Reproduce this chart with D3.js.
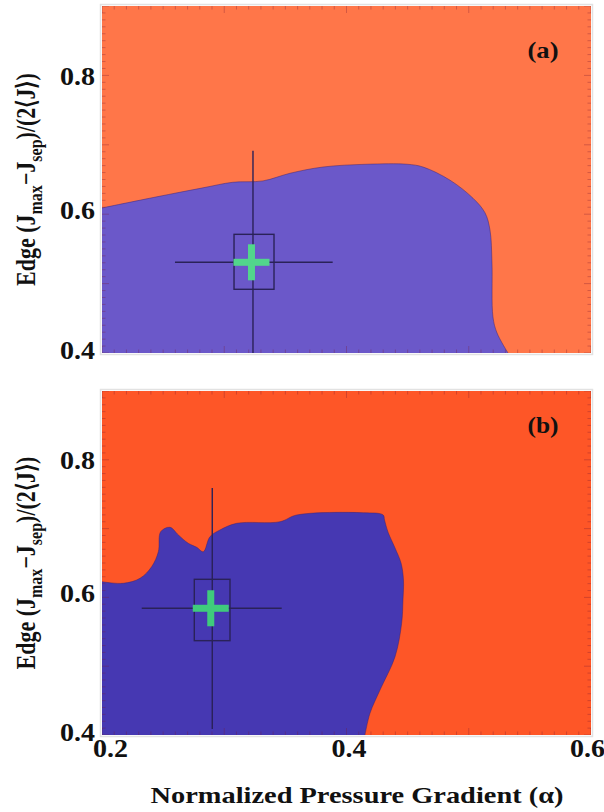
<!DOCTYPE html>
<html><head><meta charset="utf-8">
<script src="https://cdn.jsdelivr.net/npm/d3@7"></script>
<style>body{margin:0;background:#fff} svg{display:block}</style>
</head><body>
<svg id="c" width="604" height="812"></svg>
<script>
// ---------------- data ----------------
const xDomain = [0.2, 0.6];
const yDomain = [0.4, 0.9];
const xTickValues = [0.2, 0.4, 0.6];
const yTickValues = [0.4, 0.6, 0.8];
const panelLabels = ["(a)", "(b)"];

// stability boundary of the stable (blue) region, [alpha, edge current]
const boundaryA = [[0.2,0.609],[0.2447,0.625],[0.2826,0.638],[0.307,0.646],[0.3317,0.648],
  [0.3538,0.659],[0.3808,0.668],[0.4168,0.672],[0.4495,0.672],[0.4626,0.668],[0.4847,0.649],
  [0.5035,0.623],[0.5133,0.602],[0.5174,0.577],[0.519,0.53],[0.5198,0.452],[0.5231,0.429],[0.5321,0.4]];
const boundaryB = [[0.2,0.6228],[0.2174,0.6205],[0.2311,0.6278],[0.2406,0.6446],[0.2461,0.6664],
  [0.248,0.6955],[0.2556,0.7019],[0.2625,0.6907],[0.2706,0.6786],[0.2775,0.6728],[0.2829,0.6664],
  [0.2883,0.6882],[0.2965,0.698],[0.3102,0.7077],[0.3456,0.71],[0.3593,0.7198],[0.4138,0.7231],
  [0.43,0.7198],[0.4311,0.7125],[0.434,0.6948],[0.4397,0.6718],[0.4446,0.65],[0.4466,0.6253],
  [0.4462,0.5962],[0.4451,0.5624],[0.4397,0.5138],[0.4274,0.4654],[0.4192,0.4315],[0.4151,0.4]];

// experimental point: centre, inner box range, outer error bars
const pointA = [0.3235, 0.5307];
const boxAx = [0.308, 0.3407];
const boxAy = [0.4918, 0.571];
const errAx = [0.2597, 0.3887];
const errAy = [0.39, 0.6915];

const pointB = [0.2902, 0.5842];
const boxBx = [0.2755, 0.3047];
const boxBy = [0.5371, 0.6263];
const errBx = [0.2325, 0.347];
const errBy = [0.4087, 0.759];

// ---------------- drawing ----------------
const svg = d3.select("#c");
const serif = "'Liberation Serif','Times New Roman',Times,serif";

const panels = [
  {top: 6, bottom: 353, boundary: boundaryA, pt: pointA, bx: boxAx, by: boxAy, ex: errAx, ey: errAy,
   orange: "#FF7649", purple: "#6B58C9", green: "#52D68C", label: panelLabels[0], labelY: 58, showX: false},
  {top: 391, bottom: 735, boundary: boundaryB, pt: pointB, bx: boxBx, by: boxBy, ex: errBx, ey: errBy,
   orange: "#FE5627", purple: "#4638B2", green: "#3FCB7C", label: panelLabels[1], labelY: 433, showX: true}
];
const left = 102, right = 591;

panels.forEach((p, i) => {
  const x = d3.scaleLinear().domain(xDomain).range([left, right]);
  const y = d3.scaleLinear().domain(yDomain).range([p.bottom, p.top]);
  const g = svg.append("g");
  const clipId = "clip" + i;
  g.append("clipPath").attr("id", clipId).append("rect")
    .attr("x", left).attr("y", p.top).attr("width", right - left).attr("height", p.bottom - p.top);

  // light frame
  g.append("rect").attr("x", left - 1.5).attr("y", p.top - 1.5)
    .attr("width", right - left + 3).attr("height", p.bottom - p.top + 3)
    .attr("fill", "none").attr("stroke", "#e2e2e2").attr("stroke-width", 1.5);

  const plot = g.append("g").attr("clip-path", `url(#${clipId})`);
  plot.append("rect").attr("x", left).attr("y", p.top).attr("width", right - left)
    .attr("height", p.bottom - p.top).attr("fill", p.orange);

  const line = d3.line().x(d => x(d[0])).y(d => y(d[1])).curve(d3.curveCatmullRom.alpha(0.5));
  plot.append("path")
    .attr("d", line(p.boundary) + `L${x(xDomain[0])},${y(yDomain[0])}Z`)
    .attr("fill", p.purple);
  plot.append("path").attr("d", line(p.boundary)).attr("fill", "none")
    .attr("stroke", "#3a1f6a").attr("stroke-opacity", 0.45).attr("stroke-width", 1);

  // ticks (inside, all four sides)
  const tickCol = "rgba(120,25,50,0.32)";
  const yMinor = d3.range(40, 91).map(v => v / 100);
  const xMinor = d3.range(20, 61).map(v => v / 100);
  yMinor.forEach(v => {
    const major = Math.round(v * 100) % 10 === 0;
    const L = major ? 7 : 3.5;
    plot.append("line").attr("x1", left).attr("x2", left + L).attr("y1", y(v)).attr("y2", y(v))
      .attr("stroke", tickCol).attr("stroke-width", 1);
    plot.append("line").attr("x1", right - L).attr("x2", right).attr("y1", y(v)).attr("y2", y(v))
      .attr("stroke", tickCol).attr("stroke-width", 1);
  });
  xMinor.forEach(v => {
    const major = Math.round(v * 100) % 10 === 0;
    const L = major ? 7 : 3.5;
    plot.append("line").attr("x1", x(v)).attr("x2", x(v)).attr("y1", p.top).attr("y2", p.top + L)
      .attr("stroke", tickCol).attr("stroke-width", 1);
    plot.append("line").attr("x1", x(v)).attr("x2", x(v)).attr("y1", p.bottom - L).attr("y2", p.bottom)
      .attr("stroke", tickCol).attr("stroke-width", 1);
  });

  // error bars
  const dark = "#2a2258";
  plot.append("line").attr("x1", x(p.pt[0])).attr("x2", x(p.pt[0]))
    .attr("y1", y(p.ey[0])).attr("y2", y(p.ey[1])).attr("stroke", dark).attr("stroke-width", 1.4);
  plot.append("line").attr("x1", x(p.ex[0])).attr("x2", x(p.ex[1]))
    .attr("y1", y(p.pt[1])).attr("y2", y(p.pt[1])).attr("stroke", dark).attr("stroke-width", 1.4);
  plot.append("rect").attr("x", x(p.bx[0])).attr("y", y(p.by[1]))
    .attr("width", x(p.bx[1]) - x(p.bx[0])).attr("height", y(p.by[0]) - y(p.by[1]))
    .attr("fill", "none").attr("stroke", dark).attr("stroke-width", 1.4);
  // green cross marker
  const cx = x(p.pt[0]) - 1.5, cy = y(p.pt[1]);
  plot.append("rect").attr("x", cx - 18).attr("y", cy - 3.5).attr("width", 36).attr("height", 7).attr("fill", p.green);
  plot.append("rect").attr("x", cx - 3.5).attr("y", cy - 18).attr("width", 7).attr("height", 36).attr("fill", p.green);

  // panel label
  g.append("text").attr("x", 543).attr("y", p.labelY).attr("text-anchor", "middle")
    .attr("font-family", serif).attr("font-weight", "bold").attr("font-size", 23).attr("fill", "#111")
    .attr("textLength", 31).attr("lengthAdjust", "spacingAndGlyphs")
    .text(p.label);

  // y axis
  const yAxis = d3.axisLeft(y).tickValues(yTickValues).tickSize(0).tickPadding(7).tickFormat(d3.format(".1f"));
  const ya = g.append("g").attr("transform", `translate(${left},0)`).call(yAxis);
  ya.select(".domain").remove();
  ya.selectAll("text").attr("font-family", serif).attr("font-weight", "bold").attr("font-size", 26)
    .attr("fill", "#111").attr("dy", "0.34em")
    .attr("textLength", 35).attr("lengthAdjust", "spacingAndGlyphs")
    .attr("transform", d => d === 0.4 ? "translate(0,-3)" : (d === 0.6 ? "translate(0,-5)" : null));

  // x axis (bottom panel only)
  if (p.showX) {
    const xAxis = d3.axisBottom(x).tickValues(xTickValues).tickSize(0).tickPadding(4).tickFormat(d3.format(".1f"));
    const xa = g.append("g").attr("transform", `translate(0,${p.bottom})`).call(xAxis);
    xa.select(".domain").remove();
    xa.selectAll("text").attr("font-family", serif).attr("font-weight", "bold").attr("font-size", 26)
      .attr("fill", "#111").attr("textLength", 35).attr("lengthAdjust", "spacingAndGlyphs")
      .attr("transform", d => d === 0.2 ? "translate(8,0)" : (d === 0.6 ? "translate(-4,0)" : "translate(2,0)"));
  }

  // y title
  const cyT = (p.top + p.bottom) / 2;
  const t = g.append("text").attr("transform", `translate(35,${cyT}) scale(1.2,1) rotate(-90)`)
    .attr("text-anchor", "middle").attr("font-family", serif).attr("font-weight", "bold")
    .attr("font-size", 22).attr("fill", "#111");
  t.append("tspan").text("Edge (J");
  t.append("tspan").attr("font-size", 16).attr("dy", 6).text("max");
  t.append("tspan").attr("dy", -6).text("\u2212J");
  t.append("tspan").attr("font-size", 16).attr("dy", 6).text("sep");
  t.append("tspan").attr("dy", -6).text(")/(2\u27E8J\u27E9)");
});

// x title
svg.append("text").attr("x", 357).attr("y", 803).attr("text-anchor", "middle")
  .attr("font-family", serif).attr("font-weight", "bold").attr("font-size", 23).attr("fill", "#111")
  .attr("textLength", 413).attr("lengthAdjust", "spacingAndGlyphs")
  .text("Normalized Pressure Gradient (\u03B1)");
</script>
</body></html>
